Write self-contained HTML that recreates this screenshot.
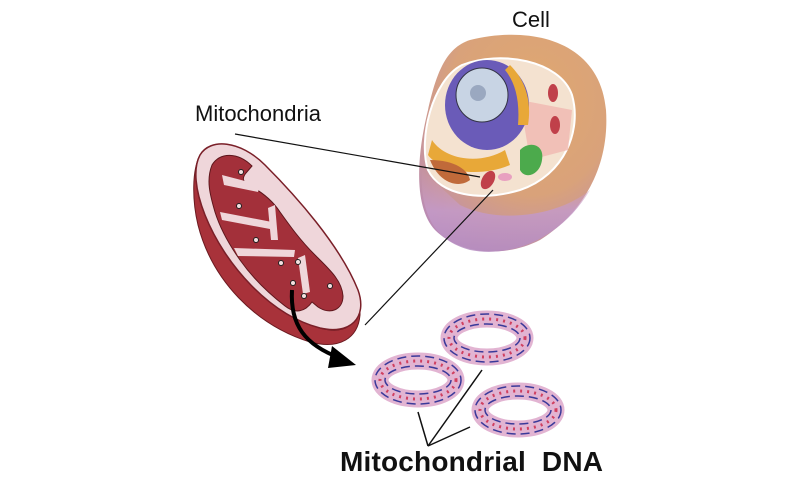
<!DOCTYPE html>
<html><head><style>
html,body{margin:0;padding:0;background:#fff;}
svg{display:block;}
</style></head><body>
<svg width="800" height="481" viewBox="0 0 800 481" xmlns="http://www.w3.org/2000/svg">
<defs>
<radialGradient id="cellg" cx="0.6" cy="0.3" r="0.8">
<stop offset="0" stop-color="#e0a870"/><stop offset="0.55" stop-color="#d9a27a"/><stop offset="1" stop-color="#b88ab8"/>
</radialGradient>
<linearGradient id="purp" x1="0" y1="0" x2="0" y2="1">
<stop offset="0" stop-color="#d4a0b0" stop-opacity="0"/><stop offset="0.5" stop-color="#c49ac8"/><stop offset="1" stop-color="#b58cc0"/>
</linearGradient>
</defs>
<!-- Cell -->
<path d="M470,40 C530,25 600,40 606,110 C610,170 580,215 540,240 C505,258 460,255 435,230 C412,205 418,150 428,110 C436,75 445,48 470,40 Z" fill="url(#cellg)"/>
<path d="M422,170 C420,210 432,240 470,250 C510,258 560,240 590,190 C560,215 500,225 460,205 Z" fill="url(#purp)" opacity="0.85"/>
<path d="M462,65 C500,50 560,60 572,95 C582,130 565,175 520,190 C480,202 440,195 428,170 C418,140 432,80 462,65 Z" fill="#f4e2d0" stroke="#fff" stroke-width="2"/>
<path d="M520,100 L572,110 L568,150 L530,160 Z" fill="#f0b8b0" opacity="0.8"/>
<ellipse cx="487" cy="105" rx="42" ry="45" fill="#6a5bb8"/>
<ellipse cx="482" cy="95" rx="26" ry="27" fill="#c8d4e4" stroke="#334" stroke-width="1"/>
<ellipse cx="478" cy="93" rx="8" ry="8" fill="#9aa8c0"/>
<path d="M432,140 C445,160 480,165 505,150 L510,165 C480,178 440,172 428,155 Z" fill="#e8a838"/>
<path d="M510,65 C525,80 532,100 528,125 L518,125 C520,100 515,82 505,70 Z" fill="#e8a838"/>
<path d="M430,160 C440,185 460,188 470,180 C468,170 455,160 430,160 Z" fill="#c06a3a"/>
<path d="M520,150 C530,140 545,145 542,160 C540,175 525,180 520,170 Z" fill="#4caa4c"/>
<ellipse cx="488" cy="180" rx="6" ry="10" fill="#c0404a" transform="rotate(30 488 180)"/>
<ellipse cx="505" cy="177" rx="7" ry="4" fill="#e8a0c0"/>
<ellipse cx="553" cy="93" rx="5" ry="9" fill="#c0404a"/>
<ellipse cx="555" cy="125" rx="5" ry="9" fill="#c0404a"/>
<text x="512" y="27" font-family="Liberation Sans, sans-serif" font-size="22" fill="#111">Cell</text>
<text x="195" y="121" font-family="Liberation Sans, sans-serif" font-size="22" fill="#111">Mitochondria</text>
<line x1="235" y1="134" x2="480" y2="177" stroke="#111" stroke-width="1.2"/>
<line x1="493" y1="190" x2="365" y2="325" stroke="#111" stroke-width="1.2"/>
<!-- Mitochondrion -->
<path d="M200,155 C192,170 192,200 198,225 C212,280 255,325 310,342 C340,350 358,338 360,315 L360,302 C358,325 345,335 320,328 C270,315 225,265 205,215 C195,190 193,168 200,155 Z" fill="#a8323a" stroke="#6a1a20" stroke-width="1"/>
<path d="M200,155 C210,138 240,140 265,165 C295,195 340,245 358,290 C368,318 350,335 320,328 C270,315 225,265 205,215 C195,190 193,168 200,155 Z" fill="#efd6da" stroke="#7a1f28" stroke-width="1.5"/>
<path d="M212,165 C220,152 238,152 252,166 L246,173 C242,178 242,182 250,186 C262,192 272,200 280,212 C290,226 300,240 315,255 C328,268 342,280 343,296 C343,310 330,315 318,307 L312,302 C305,312 295,314 285,306 C268,293 252,277 240,260 C228,243 220,228 215,212 C210,195 206,180 212,165 Z" fill="#a3303a" stroke="#5e161c" stroke-width="1"/>
<g fill="#efd6da">
<path d="M222,175 L260,185 L258,192 L224,185 Z"/>
<path d="M220,212 L272,222 L270,229 L222,220 Z"/>
<path d="M234,248 L295,250 L294,257 L238,256 Z"/>
<path d="M275,205 L278,240 L271,240 L268,208 Z"/>
<path d="M305,255 L310,292 L303,294 L298,258 Z"/>
</g>
<g fill="#f4e0e0" stroke="#222" stroke-width="1">
<circle cx="241" cy="172" r="2.5"/><circle cx="239" cy="206" r="2.5"/><circle cx="256" cy="240" r="2.5"/>
<circle cx="281" cy="263" r="2.5"/><circle cx="298" cy="262" r="2.5"/><circle cx="293" cy="283" r="2.5"/>
<circle cx="330" cy="286" r="2.5"/><circle cx="304" cy="296" r="2.5"/>
</g>
<path d="M292,290 C290,325 305,345 340,358" fill="none" stroke="#000" stroke-width="4"/>
<polygon points="332,346 356,365 328,368" fill="#000"/>
<!-- DNA rings -->
<g fill="none">
<ellipse cx="418" cy="380" rx="38" ry="19" stroke="#e2b4d2" stroke-width="17"/>
<ellipse cx="418" cy="380" rx="38" ry="19" stroke="#d04060" stroke-width="3" stroke-dasharray="2 5"/>
<ellipse cx="418" cy="380" rx="43" ry="24" stroke="#3a3a9a" stroke-width="1.5" stroke-dasharray="9 5"/>
<ellipse cx="418" cy="380" rx="33" ry="14" stroke="#3a3a9a" stroke-width="1.5" stroke-dasharray="9 5"/>
<ellipse cx="487" cy="338" rx="38" ry="19" stroke="#e2b4d2" stroke-width="17"/>
<ellipse cx="487" cy="338" rx="38" ry="19" stroke="#d04060" stroke-width="3" stroke-dasharray="2 5"/>
<ellipse cx="487" cy="338" rx="43" ry="24" stroke="#3a3a9a" stroke-width="1.5" stroke-dasharray="9 5"/>
<ellipse cx="487" cy="338" rx="33" ry="14" stroke="#3a3a9a" stroke-width="1.5" stroke-dasharray="9 5"/>
<ellipse cx="518" cy="410" rx="38" ry="19" stroke="#e2b4d2" stroke-width="17"/>
<ellipse cx="518" cy="410" rx="38" ry="19" stroke="#d04060" stroke-width="3" stroke-dasharray="2 5"/>
<ellipse cx="518" cy="410" rx="43" ry="24" stroke="#3a3a9a" stroke-width="1.5" stroke-dasharray="9 5"/>
<ellipse cx="518" cy="410" rx="33" ry="14" stroke="#3a3a9a" stroke-width="1.5" stroke-dasharray="9 5"/>
</g>
<g stroke="#111" stroke-width="1.5">
<line x1="428" y1="446" x2="418" y2="412"/>
<line x1="428" y1="446" x2="482" y2="370"/>
<line x1="428" y1="446" x2="470" y2="427"/>
</g>
<text x="340" y="471" font-family="Liberation Sans, sans-serif" font-size="28" font-weight="bold" fill="#111" textLength="263" xml:space="preserve">Mitochondrial  DNA</text>
</svg>
</body></html>
